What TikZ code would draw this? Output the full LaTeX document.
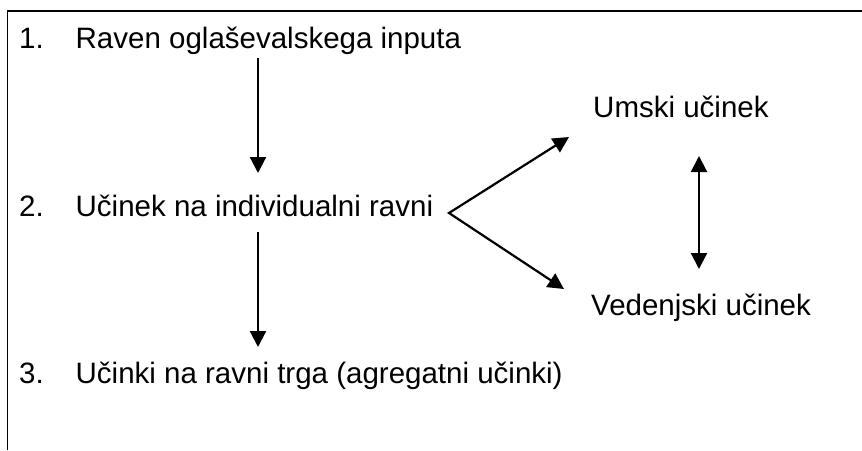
\documentclass[tikz,border=0pt]{standalone}
\usepackage{fontspec}
\setmainfont{Liberation Sans}
\usetikzlibrary{arrows.meta}
\begin{document}
\begin{tikzpicture}[x=1pt,y=-1pt,
  lbl/.style={anchor=base west, inner sep=0pt, font=\fontsize{29.5}{34}\selectfont},
  tip/.tip={Triangle[length=16pt,width=16pt]},
  arr/.style={line width=2.2pt, -tip},
  dbl/.style={line width=2.2pt, tip-tip},
  frame/.style={line width=1.6pt}]
\useasboundingbox (0,0) rectangle (862,450);
% open frame: left edge and top edge only
\draw[frame] (7.5,450) -- (7.5,11) -- (862,11);
% levels
\node[lbl] (l1) at (19,48) {\makebox[56.5pt][l]{1.}Raven oglaševalskega inputa};
\node[lbl] (l2) at (19,216) {\makebox[56.5pt][l]{2.}Učinek na individualni ravni};
\node[lbl] (l3) at (19,383) {\makebox[56.5pt][l]{3.}Učinki na ravni trga (agregatni učinki)};
% effects
\node[lbl] (um) at (593,117) {Umski učinek};
\node[lbl] (ve) at (591,315) {Vedenjski učinek};
% connector end points
\coordinate (a1s) at (258,58);
\coordinate (a1e) at (258,173);
\coordinate (a2s) at (258,232);
\coordinate (a2e) at (258,347);
\coordinate (fork) at (449,213);
\coordinate (umt) at (569,137);
\coordinate (vet) at (564,289);
\coordinate (dt) at (699,156);
\coordinate (db) at (699,269);
% connectors
\draw[arr] (a1s) -- (a1e);
\draw[arr] (a2s) -- (a2e);
\draw[dbl, line join=miter] (umt) -- (fork) -- (vet);
\draw[dbl] (dt) -- (db);
\end{tikzpicture}
\end{document}
